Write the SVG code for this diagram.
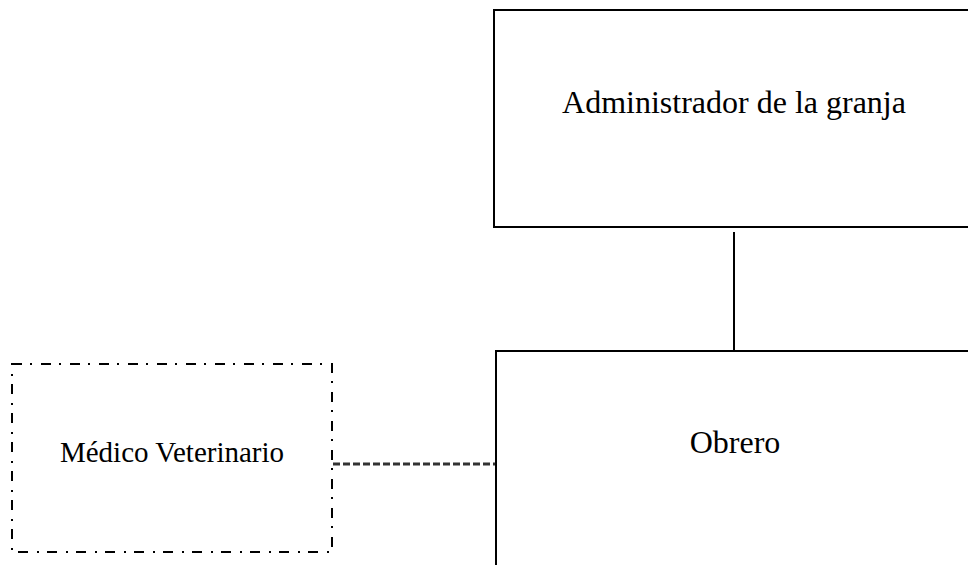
<svg xmlns="http://www.w3.org/2000/svg" width="968" height="565" viewBox="0 0 968 565">
<style>
.box{fill:#fff;stroke:#000;stroke-width:2}
.dd{fill:#fff;stroke:#000;stroke-width:2;stroke-dasharray:10 8 2 9}
.lbl{font-family:"Liberation Serif","Times New Roman",serif;fill:#000;text-anchor:middle}
.solid{stroke:#000;stroke-width:2;fill:none}
.dash{stroke:#333;stroke-width:3;stroke-dasharray:7 3;fill:none}
</style>
<rect width="968" height="565" fill="#fff"/>
<g id="connectors">
<line class="solid" x1="734" y1="232" x2="734" y2="351"/>
<line class="dash" x1="333" y1="464" x2="495" y2="464"/>
</g>
<g id="admin">
<rect class="box" x="494" y="10" width="480" height="217"/>
<text class="lbl" x="734" y="113" font-size="32">Administrador de la granja</text>
</g>
<g id="obrero">
<rect class="box" x="496" y="351" width="480" height="230"/>
<text class="lbl" x="735" y="453" font-size="32">Obrero</text>
</g>
<g id="medico">
<rect class="dd" x="12" y="364" width="320" height="188"/>
<text class="lbl" x="172" y="462" font-size="29">Médico Veterinario</text>
</g>
</svg>
